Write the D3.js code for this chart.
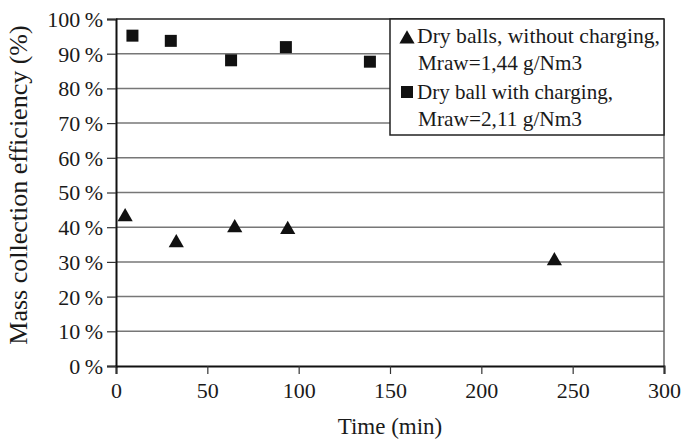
<!DOCTYPE html>
<html>
<head>
<meta charset="utf-8">
<script src="https://cdn.jsdelivr.net/npm/d3@7"></script>
<style>
  body { margin: 0; background: #fff; }
  text { font-family: "Liberation Serif", "Times New Roman", serif; fill: #1a1a1a; }
</style>
</head>
<body>
<div id="chart"></div>
<script>
// Data
const timeDry = [5, 33, 65, 94, 240];
const effDry = [43, 35.5, 39.8, 39.3, 30.3];
const timeCharged = [9, 30, 63, 93, 139];
const effCharged = [95.2, 93.7, 88.1, 91.9, 87.7];
const xTicks = [0, 50, 100, 150, 200, 250, 300];
const yTicks = [0, 10, 20, 30, 40, 50, 60, 70, 80, 90, 100];
const legendLines = [
  ['Dry balls, without charging,', 'Mraw=1,44 g/Nm3'],
  ['Dry ball with charging,', 'Mraw=2,11 g/Nm3']
];
const legendWidths = [[243, 164], [196, 164]];

const width = 685, height = 441;
const margin = { top: 19, right: 21, bottom: 75, left: 116 };
const w = width - margin.left - margin.right;
const h = height - margin.top - margin.bottom;

const svg = d3.select('#chart').append('svg')
  .attr('width', width)
  .attr('height', height);

const g = svg.append('g')
  .attr('transform', `translate(${margin.left},${margin.top})`);

const x = d3.scaleLinear().domain([0, 300]).range([0, w]);
const y = d3.scaleLinear().domain([0, 100]).range([h, 0]);

// Gridlines
g.selectAll('.grid')
  .data(yTicks.filter(d => d > 0))
  .enter().append('line')
  .attr('x1', 0).attr('x2', w)
  .attr('y1', d => y(d)).attr('y2', d => y(d))
  .attr('stroke', d => d === 100 ? '#222' : '#777')
  .attr('stroke-width', 1.5);

// Right border
g.append('line')
  .attr('x1', w).attr('x2', w)
  .attr('y1', 0).attr('y2', h)
  .attr('stroke', '#666')
  .attr('stroke-width', 1.5);

// Axes
const xAxis = g.append('g')
  .attr('transform', `translate(0,${h})`)
  .call(d3.axisBottom(x).tickValues(xTicks).tickSize(8).tickPadding(8));
const yAxis = g.append('g')
  .call(d3.axisLeft(y).tickValues(yTicks).tickSize(9).tickPadding(4)
    .tickFormat(d => d + '\u2009%'));

[xAxis, yAxis].forEach(a => {
  a.select('.domain').attr('stroke', '#111').attr('stroke-width', 2);
  a.selectAll('.tick line').attr('stroke', '#333').attr('stroke-width', 1.2);
  a.selectAll('text')
    .style('font-family', '"Liberation Serif", serif')
    .style('font-size', '22px')
    .attr('fill', '#1a1a1a');
});
yAxis.selectAll('.tick text').attr('dy', '0.34em');

// Axis titles
svg.append('text')
  .attr('x', margin.left + x(150))
  .attr('y', 434)
  .attr('text-anchor', 'middle')
  .style('font-size', '23px')
  .text('Time (min)');

svg.append('text')
  .attr('transform', `translate(27,185) rotate(-90)`)
  .attr('text-anchor', 'middle')
  .style('font-size', '26px')
  .text('Mass collection efficiency (%)');

// Markers
const tri = d3.symbol().type(d3.symbolTriangle).size(100);
const sq = d3.symbol().type(d3.symbolSquare).size(144);

g.selectAll('.dry')
  .data(timeDry.map((t, i) => [t, effDry[i]]))
  .enter().append('path')
  .attr('d', tri)
  .attr('transform', d => `translate(${x(d[0])},${y(d[1])})`)
  .attr('fill', '#111');

g.selectAll('.charged')
  .data(timeCharged.map((t, i) => [t, effCharged[i]]))
  .enter().append('path')
  .attr('d', sq)
  .attr('transform', d => `translate(${x(d[0])},${y(d[1])})`)
  .attr('fill', '#111');

// Legend
const legend = svg.append('g').attr('transform', 'translate(390,19)');
legend.append('rect')
  .attr('width', 274).attr('height', 116)
  .attr('fill', '#fff')
  .attr('stroke', '#222')
  .attr('stroke-width', 1.5);

const rowBase = [24, 80];
legendLines.forEach((lines, i) => {
  const base = rowBase[i];
  legend.append('path')
    .attr('d', i === 0 ? tri : sq)
    .attr('transform', `translate(17,${i === 0 ? base - 4 : base - 7})`)
    .attr('fill', '#111');
  lines.forEach((t, j) => {
    legend.append('text')
      .attr('x', j === 0 ? 27 : 28)
      .attr('y', base + j * 27)
      .attr('textLength', legendWidths[i][j])
      .attr('lengthAdjust', 'spacingAndGlyphs')
      .style('font-size', '22px')
      .text(t);
  });
});
</script>
</body>
</html>
